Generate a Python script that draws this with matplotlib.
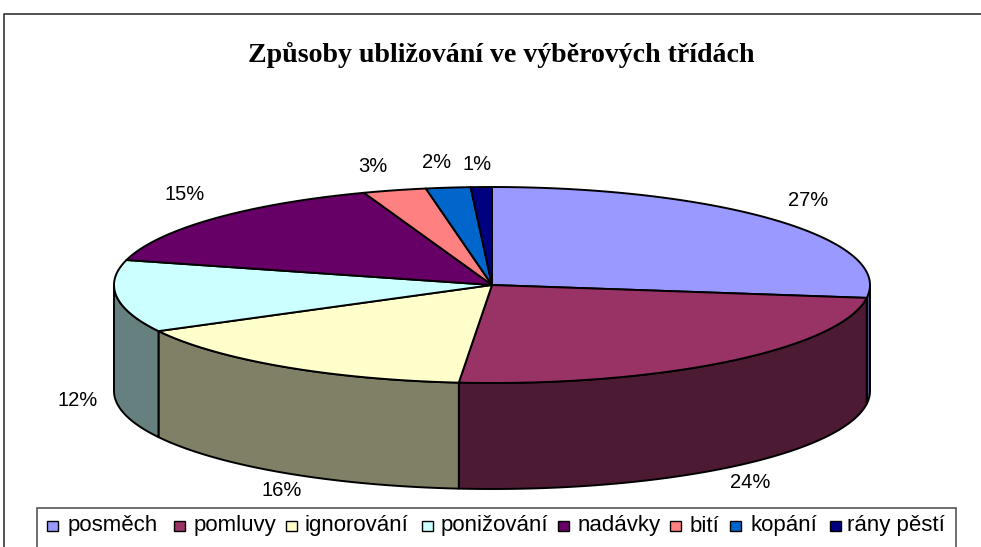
import matplotlib
matplotlib.use("Agg")
import matplotlib.pyplot as plt
import numpy as np
from matplotlib.patches import Polygon, Rectangle

title = "Způsoby ubližování ve výběrových třídách"
categories = ["posměch", "pomluvy", "ignorování", "ponižování",
              "nadávky", "bití", "kopání", "rány pěstí"]
values = [27.1, 24.3, 15.8, 11.9, 15.4, 2.7, 1.9, 0.9]
colors = ["#9999FF", "#993366", "#FFFFCC", "#CCFFFF",
          "#660066", "#FF8080", "#0066CC", "#000080"]

# layout in image pixels
CX, CY, RX, RY, DEPTH = 492, 285, 378, 98, 106
label_xy = [(808, 201), (750, 483), (282, 490), (78, 400),
            (185, 195), (373, 166), (437, 163), (477, 164)]
swatch_x = [47, 174, 286, 422, 558, 670, 730, 830]
text_x = [68, 194, 304, 441, 578, 690, 751, 847]

SANS = "Liberation Sans"


def rim(a0, a1, n=80):
    # angles in degrees, clockwise from the top of the pie
    t = np.radians(np.linspace(a0, a1, n))
    return np.column_stack([CX + RX * np.sin(t), CY - RY * np.cos(t)])


def darker(c):
    rgb = matplotlib.colors.to_rgb(c)
    return tuple(v / 2 for v in rgb)


fig = plt.figure(figsize=(9.81, 5.47), dpi=100)
ax = fig.add_axes([0, 0, 1, 1])
ax.set_xlim(0, 981)
ax.set_ylim(547, 0)
ax.axis("off")

# chart frame, cut off by the image on the right and at the bottom
ax.plot([4, 4, 981], [547, 14, 14], color="#333333", lw=1.2)

ax.text(501, 55, title, family="Liberation Serif", weight="bold",
        fontsize=20.1, ha="center", va="center", color="black")

edges = np.concatenate([[0], np.cumsum(values)]) / sum(values) * 360

# side wall, only the front half is visible
for i, c in enumerate(colors):
    a0, a1 = max(edges[i], 90), min(edges[i + 1], 270)
    if a0 >= a1:
        continue
    top = rim(a0, a1)
    bottom = top[::-1] + [0, DEPTH]
    ax.add_patch(Polygon(np.vstack([top, bottom]), closed=True,
                         fc=darker(c), ec="black", lw=1.4, joinstyle="round"))

# top face
for i, c in enumerate(colors):
    pts = np.vstack([[CX, CY], rim(edges[i], edges[i + 1])])
    ax.add_patch(Polygon(pts, closed=True, fc=c, ec="black", lw=1.4,
                         joinstyle="round"))

for v, (x, y) in zip(values, label_xy):
    ax.text(x, y, f"{round(v)}%", family=SANS, fontsize=14.5,
            ha="center", va="center", color="black")

# legend box
ax.add_patch(Rectangle((37, 508), 919, 60, fc="white", ec="#555555", lw=1.2))
for name, c, sx, tx in zip(categories, colors, swatch_x, text_x):
    ax.add_patch(Rectangle((sx, 521), 11, 10, fc=c, ec="black", lw=1.0))
    ax.text(tx, 526, name, family=SANS, fontsize=16, ha="left",
            va="center", color="black")

fig.savefig("out.png", dpi=100)
